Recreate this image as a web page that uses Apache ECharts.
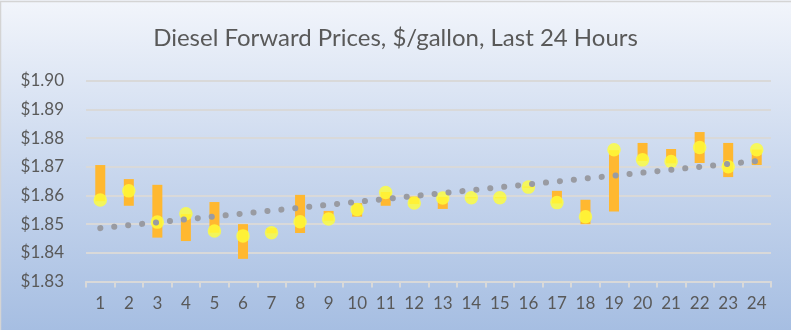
<!DOCTYPE html>
<html>
<head>
<meta charset="utf-8">
<script src="https://cdn.jsdelivr.net/npm/echarts@6/dist/echarts.min.js"></script>
<style>
  html, body { margin: 0; padding: 0; background: #fff; }
  #chart { width: 791px; height: 330px; }
</style>
</head>
<body>
<div id="chart"></div>
<script>
// Hours of the trading window
const hours = ['1','2','3','4','5','6','7','8','9','10','11','12','13','14','15','16','17','18','19','20','21','22','23','24'];

// Hourly high / low range ($/gallon)
const highs = [1.8706, 1.8657, 1.8637, 1.8535, 1.8577, 1.8500, 1.8486, 1.8602, 1.8546, 1.8573, 1.8612, 1.8596,
               1.8595, 1.8594, 1.8594, 1.8631, 1.8616, 1.8585, 1.8758, 1.8783, 1.8762, 1.8821, 1.8783, 1.8760];
const lows  = [1.8580, 1.8564, 1.8453, 1.8441, 1.8470, 1.8379, 1.8468, 1.8469, 1.8512, 1.8526, 1.8564, 1.8570,
               1.8553, 1.8590, 1.8590, 1.8627, 1.8572, 1.8500, 1.8544, 1.8720, 1.8712, 1.8713, 1.8664, 1.8706];

// Hourly settle price
const closes = [1.8584, 1.8616, 1.8507, 1.8536, 1.8476, 1.8459, 1.8470, 1.8508, 1.8518, 1.8551, 1.8610, 1.8574,
                1.8591, 1.8592, 1.8592, 1.8629, 1.8575, 1.8526, 1.8759, 1.8724, 1.8718, 1.8767, 1.8700, 1.8759];

// Linear trend end points (first and last hour)
const trendEnds = [1.8486, 1.8720];

// Y-axis ticks
const yTicks = [1.83, 1.84, 1.85, 1.86, 1.87, 1.88, 1.89, 1.90];

const chart = echarts.init(document.getElementById('chart'), null, { renderer: 'canvas' });

const rangeHeights = highs.map((h, i) => +(h - lows[i]).toFixed(4));

chart.setOption({
  animation: false,
  backgroundColor: {
    type: 'linear', x: 0, y: 0, x2: 0, y2: 1,
    colorStops: [
      { offset: 0, color: '#f2f5fb' },
      { offset: 0.5, color: '#cad8ee' },
      { offset: 1, color: '#a6bee2' }
    ]
  },
  graphic: [{
    type: 'rect',
    shape: { x: 0.5, y: 1.5, width: 800, height: 340 },
    style: { fill: 'none', stroke: '#d4d4d4', lineWidth: 1.5 },
    silent: true
  }],
  title: {
    text: 'Diesel Forward Prices, $/gallon, Last 24 Hours',
    left: 'center',
    top: 21,
    textStyle: { fontFamily: 'Lato', fontWeight: 'normal', fontSize: 24, color: '#595959' }
  },
  grid: { left: 86, right: 20, top: 80.7, bottom: 48.5 },
  xAxis: {
    type: 'category',
    data: hours,
    boundaryGap: true,
    axisLine: { lineStyle: { color: '#d9d9d9', width: 2 } },
    axisTick: { show: true, length: 6, lineStyle: { color: '#d9d9d9', width: 2 } },
    axisLabel: { color: '#595959', fontFamily: 'Lato', fontSize: 17, margin: 14 },
    splitLine: { show: false }
  },
  yAxis: {
    type: 'value',
    min: yTicks[0],
    max: yTicks[yTicks.length - 1],
    interval: 0.01,
    axisLine: { show: false },
    axisTick: { show: false },
    axisLabel: {
      color: '#595959', fontFamily: 'Lato', fontSize: 17, margin: 22,
      formatter: v => '$' + v.toFixed(2)
    },
    splitLine: { lineStyle: { color: '#d9d9d9', width: 2 } }
  },
  series: [
    {
      name: 'base',
      type: 'bar',
      stack: 'range',
      data: lows,
      barWidth: 10,
      itemStyle: { color: 'transparent' },
      silent: true,
      z: 1
    },
    {
      name: 'High-Low',
      type: 'bar',
      stack: 'range',
      data: rangeHeights,
      barWidth: 10,
      itemStyle: { color: '#ffb830' },
      z: 2
    },
    {
      name: 'Settle',
      type: 'scatter',
      data: closes,
      symbol: 'circle',
      symbolSize: 13.5,
      itemStyle: { color: '#ffff38' },
      z: 3
    },
    {
      name: 'Trend',
      type: 'line',
      data: [[0, trendEnds[0]], [hours.length - 1, trendEnds[1]]],
      symbol: 'none',
      lineStyle: { color: '#999ba2', width: 6, type: [0.1, 13.9], cap: 'round' },
      z: 4
    }
  ]
});
</script>
</body>
</html>
